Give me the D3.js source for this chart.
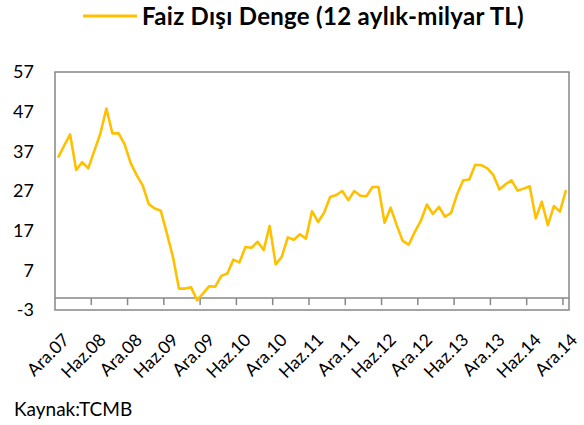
<!DOCTYPE html>
<html lang="tr">
<head>
<meta charset="UTF-8">
<title>Faiz Dışı Denge</title>
<script src="https://cdn.jsdelivr.net/npm/d3@7"></script>
<style>
    body { margin: 0; background: #fff; }
    text { font-family: Lato, "Open Sans", sans-serif; fill: #000; }
</style>
</head>
<body>
<div id="chart"></div>
<script>
// monthly labels, Ara.07 .. Ara.14
var months = ["Oca", "Şub", "Mar", "Nis", "May", "Haz", "Tem", "Ağu", "Eyl", "Eki", "Kas", "Ara"];
var categories = ["Ara.07"];
for (var yr = 8; yr <= 14; yr++) {
    months.forEach(function (m) { categories.push(m + "." + (yr < 10 ? "0" + yr : yr)); });
}

var tickLabels = ["Ara.07", "Haz.08", "Ara.08", "Haz.09", "Ara.09", "Haz.10", "Ara.10", "Haz.11",
    "Ara.11", "Haz.12", "Ara.12", "Haz.13", "Ara.13", "Haz.14", "Ara.14"];

var yTicks = [-3, 7, 17, 27, 37, 47, 57];

// 12 aylık faiz dışı denge, milyar TL
var values = [
    35.4, 38.4, 41.3, 32.3, 34.3, 32.7, 37.1, 41.5, 47.8, 41.5, 41.6, 38.8, 34.1,
    31.0, 28.4, 23.7, 22.6, 22.0, 16.3, 10.4, 2.4, 2.4, 2.7, -0.5, 1.2, 3.0,
    2.9, 5.6, 6.2, 9.7, 9.0, 12.9, 12.7, 14.2, 12.1, 18.2, 8.5, 10.4,
    15.3, 14.7, 16.1, 15.0, 21.9, 19.2, 21.5, 25.5, 26.0, 27.0, 24.7, 27.0,
    25.8, 25.7, 28.0, 28.0, 19.0, 22.8, 18.4, 14.4, 13.5, 16.7, 19.5, 23.6,
    21.2, 23.0, 20.5, 21.5, 26.2, 29.7, 29.9, 33.6, 33.5, 32.7, 31.0,
    27.4, 28.7, 29.7, 27.1, 27.6, 28.2, 20.1, 24.3, 18.4, 23.2, 21.8, 27.2
];

function drawChart() {
    var width = 584,
        height = 425,
        plotLeft = 55,
        plotRight = 569,
        plotTop = 72,
        plotBottom = 310,
        gold = "#FFC000",
        grey = "#878787";

    var svg = d3.select("#chart").append("svg")
        .attr("width", width)
        .attr("height", height);

    var x = d3.scalePoint()
        .domain(categories)
        .range([plotLeft, plotRight])
        .padding(0.5);

    var y = d3.scaleLinear()
        .domain([-3, 57])
        .range([plotBottom, plotTop]);

    // plot frame
    svg.append("rect")
        .attr("x", plotLeft)
        .attr("y", plotTop)
        .attr("width", plotRight - plotLeft)
        .attr("height", plotBottom - plotTop)
        .attr("fill", "none")
        .attr("stroke", grey)
        .attr("stroke-width", 1.5);

    // y labels
    svg.append("g")
        .selectAll("text")
        .data(yTicks)
        .enter()
        .append("text")
        .attr("x", 34)
        .attr("y", function (d) { return y(d); })
        .attr("dy", "0.36em")
        .attr("text-anchor", "end")
        .style("font-size", "18px")
        .text(function (d) { return d; });

    // category axis at zero
    svg.append("line")
        .attr("x1", plotLeft)
        .attr("x2", plotRight)
        .attr("y1", y(0))
        .attr("y2", y(0))
        .attr("stroke", grey)
        .attr("stroke-width", 1.5);

    var step = x.step();
    var tickCats = categories.filter(function (d, i) { return i % 6 === 0 && i > 0; });
    svg.append("g")
        .selectAll("line")
        .data(tickCats)
        .enter()
        .append("line")
        .attr("x1", function (d) { return x(d) - step / 2; })
        .attr("x2", function (d) { return x(d) - step / 2; })
        .attr("y1", y(0))
        .attr("y2", y(0) + 7)
        .attr("stroke", grey)
        .attr("stroke-width", 1.5);

    // rotated month labels
    svg.append("g")
        .selectAll("text")
        .data(tickLabels)
        .enter()
        .append("text")
        .attr("text-anchor", "end")
        .attr("transform", function (d) {
            return "translate(" + (x(d) + 12.5) + "," + 341 + ") rotate(-45)";
        })
        .style("font-size", "17.5px")
        .text(function (d) { return d; });

    // series
    var line = d3.line()
        .x(function (d, i) { return x(categories[i]); })
        .y(function (d) { return y(d); });

    svg.append("path")
        .datum(values)
        .attr("d", line)
        .attr("fill", "none")
        .attr("stroke", gold)
        .attr("stroke-width", 2.6)
        .attr("stroke-linejoin", "round");

    // legend / title
    svg.append("line")
        .attr("x1", 83)
        .attr("x2", 137)
        .attr("y1", 16)
        .attr("y2", 16)
        .attr("stroke", gold)
        .attr("stroke-width", 3);

    svg.append("text")
        .attr("x", 142)
        .attr("y", 24.5)
        .style("font-size", "24px")
        .style("font-weight", 700)
        .style("letter-spacing", "0.3px")
        .text("Faiz Dışı Denge (12 aylık-milyar TL)");

    svg.append("text")
        .attr("x", 14)
        .attr("y", 416)
        .style("font-size", "19px")
        .text("Kaynak:TCMB");
}
drawChart();
</script>
</body>
</html>
